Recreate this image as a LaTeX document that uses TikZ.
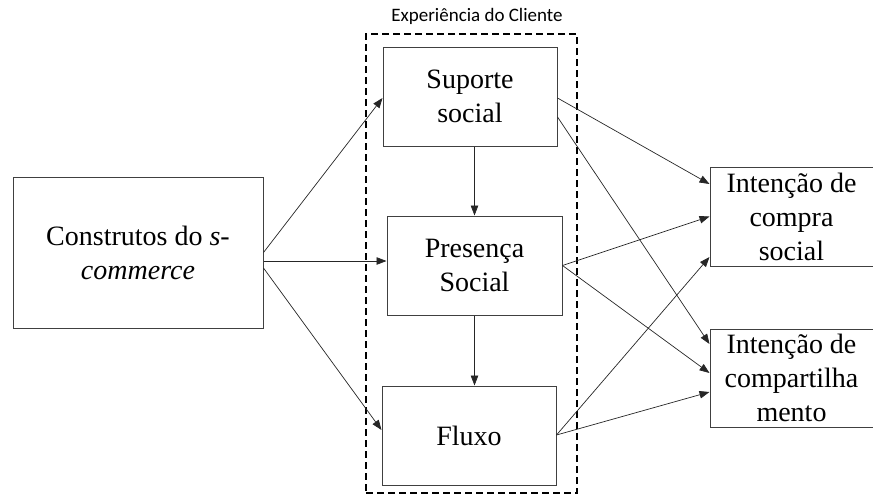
\documentclass[tikz,border=0pt]{standalone}
\usepackage{fontspec}
\setmainfont{Liberation Serif}
\newfontfamily\labelfont{Carlito}
\usetikzlibrary{arrows.meta, positioning}

\begin{document}
\begin{tikzpicture}[
    x=1pt, y=-1pt,
    box/.style={draw=black!75, line width=1pt, rectangle, fill=white, align=center, font=\fontsize{28}{34}\selectfont, inner sep=2pt},
    frame/.style={draw, dashed, dash pattern=on 7pt off 4pt, line width=1.4pt, rectangle, inner sep=0pt},
    arrow/.style={draw, line width=0.7pt, black!85, -{Triangle[length=10pt, width=7.5pt]}}
]

\useasboundingbox (0,0) rectangle (873,498);

\node[frame, minimum width=211pt, minimum height=459pt] (exp) at (471.5,263.5) {};
\node[font=\labelfont\fontsize{19}{22}\selectfont] (explabel) at (477,16) {Experiência do Cliente};

\node[box, minimum width=250pt, minimum height=151pt] (cons) at (138,252.5) {Construtos do \textit{s}-\\\textit{commerce}};
\node[box, minimum width=174pt, minimum height=99pt] (sup) at (470,96.5) {Suporte\\social};
\node[box, minimum width=175pt, minimum height=99pt] (pres) at (474.5,265.5) {Presença\\Social};
\node[box, minimum width=174pt, minimum height=99pt] (flu) at (469,435.5) {Fluxo};
\node[box, minimum width=163pt, minimum height=99pt] (compra) at (791.5,216.5) {Intenção de\\compra\\social};
\node[box, minimum width=163pt, minimum height=98pt] (comp) at (791.5,378) {Intenção de\\compartilha\\mento};

\draw[arrow] (cons.east) -- ([yshift=-1.5pt]sup.west);
\draw[arrow] ([yshift=-8.5pt]cons.east) -- ([yshift=4.5pt]pres.west);
\draw[arrow] ([yshift=-15.5pt]cons.east) -- ([yshift=5.5pt]flu.west);
\draw[arrow] (sup.south -| pres.north) -- (pres.north);
\draw[arrow] (pres.south) -- (pres.south |- flu.north);
\draw[arrow] ([yshift=-1.5pt]sup.east) -- ([yshift=32.5pt]compra.west);
\draw[arrow] ([yshift=-20.5pt]sup.east) -- ([yshift=34pt]comp.west);
\draw[arrow] (pres.east) -- (compra.west);
\draw[arrow] (pres.east) -- ([yshift=5pt]comp.west);
\draw[arrow] ([yshift=0.5pt]flu.east) -- ([yshift=-40.5pt]compra.west);
\draw[arrow] ([yshift=0.5pt]flu.east) -- ([yshift=-14pt]comp.west);

\end{tikzpicture}
\end{document}
